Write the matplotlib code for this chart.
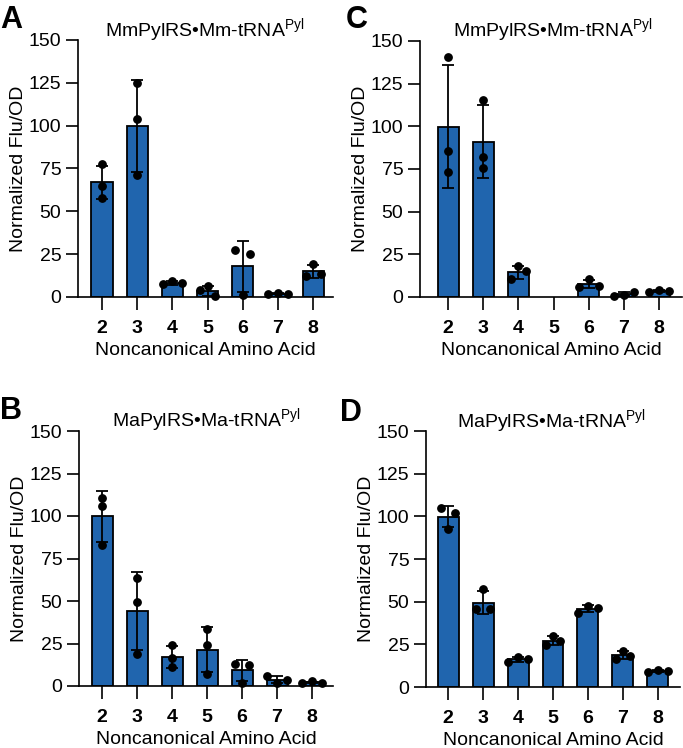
import numpy as np
import matplotlib
matplotlib.use('Agg')
import matplotlib.pyplot as plt

plt.rcParams['font.family'] = ['Liberation Sans', 'DejaVu Sans']
plt.rcParams['mathtext.fontset'] = 'custom'
plt.rcParams['mathtext.rm'] = 'Liberation Sans'

# ---------------- data ----------------
categories = ['2', '3', '4', '5', '6', '7', '8']
yticks = [0, 25, 50, 75, 100, 125, 150]
xlabel = 'Noncanonical Amino Acid'
ylabel = 'Normalized Flu/OD'
title_mm = r'MmPylRS•Mm-tRNA$^{\mathregular{Pyl}}$'
title_ma = r'MaPylRS•Ma-tRNA$^{\mathregular{Pyl}}$'

# replicate values (3 per amino acid); NaN = not measured
reps_A = [[77.5, 65.0, 58.0], [124.7, 103.6, 71.1], [7.5, 9.5, 8.0],
          [4.2, 6.2, 0.3], [27.7, 1.0, 24.9], [1.5, 2.5, 2.0], [12.5, 19.5, 13.5]]
reps_C = [[140.7, 85.5, 73.4], [115.3, 82.0, 75.8], [17.9, 10.5, 15.0],
          [np.nan, np.nan, np.nan], [6.0, 10.5, 6.2], [0.8, 1.2, 2.8], [3.2, 4.3, 3.3]]
reps_B = [[110.8, 105.9, 82.9], [63.7, 49.4, 19.0], [23.9, 16.5, 11.2],
          [33.3, 23.9, 6.9], [13.1, 2.0, 12.5], [5.7, 1.8, 3.7], [1.8, 2.7, 1.8]]
reps_D = [[104.9, 92.8, 102.0], [45.5, 57.2, 45.5], [14.6, 17.6, 16.2],
          [29.9, 24.8, 26.8], [43.6, 47.5, 46.3], [16.2, 20.9, 18.4], [8.6, 9.8, 9.6]]

# ---------------- style ----------------
BAR_COLOR = '#2065AE'
W, H = 683, 748
fig = plt.figure(figsize=(W / 100, H / 100), dpi=100)


def px_rect(left, right, y0, ytop):
    return [left / W, 1 - y0 / H, (right - left) / W, (y0 - ytop) / H]


def swarm_offsets(vals, px_per_unit, thresh_px=8.0):
    vals = np.asarray(vals, dtype=float)
    order = np.argsort(vals, kind='stable')
    rows = []
    for i in order:
        if rows and abs(vals[i] - vals[rows[-1][0]]) * px_per_unit < thresh_px:
            rows[-1].append(i)
        else:
            rows.append([i])
    offs = np.zeros(len(vals))
    for r in rows:
        r = sorted(r)
        n = len(r)
        step = 0.42 if n == 2 else 0.28
        for k, i in enumerate(r):
            offs[i] = (k - (n - 1) / 2) * step
    return offs


def panel(rect, xlim, reps, title, title_xy, letter, letter_xy):
    ax = fig.add_axes(px_rect(*rect))
    x = np.arange(len(categories))
    reps = np.asarray(reps, dtype=float)
    means = np.array([np.nan if np.all(np.isnan(r)) else np.mean(r) for r in reps])
    sds = np.array([np.nan if np.all(np.isnan(r)) else np.std(r, ddof=1) for r in reps])
    valid = ~np.isnan(means)
    ax.bar(x[valid], means[valid], width=0.6, color=BAR_COLOR, edgecolor='black',
           linewidth=1.3, zorder=2)
    ax.errorbar(x[valid], means[valid], yerr=sds[valid], fmt='none', ecolor='black',
                elinewidth=1.3, capsize=4, capthick=1.3, zorder=3, clip_on=False)
    ppu = (rect[2] - rect[3]) / 150.0
    for xi, r in zip(x, reps):
        if np.all(np.isnan(r)):
            continue
        offs = swarm_offsets(r, ppu)
        ax.plot(xi + offs, r, 'o', color='black', markersize=5.3, zorder=4,
                clip_on=False)
    ax.set_xlim(*xlim)
    ax.set_ylim(0, 150)
    ax.set_yticks(yticks)
    ax.set_xticks(x)
    ax.set_xticklabels(categories, fontweight='bold')
    for s in ['top', 'right']:
        ax.spines[s].set_visible(False)
    for s in ['left', 'bottom']:
        ax.spines[s].set_linewidth(1.2)
    ax.tick_params(axis='both', length=9, width=1.2, labelsize=14)
    ax.tick_params(axis='y', pad=3)
    ax.tick_params(axis='x', pad=7.5)
    ax.set_ylabel(ylabel, fontsize=14, labelpad=1)
    ax.set_xlabel(xlabel, fontsize=14, labelpad=3.5)
    fig.text(title_xy[0] / W, 1 - title_xy[1] / H, title, fontsize=14,
             ha='center', va='baseline')
    fig.text(letter_xy[0] / W, 1 - letter_xy[1] / H, letter, fontsize=22,
             fontweight='bold', ha='left', va='baseline')
    return ax


panel((78, 333, 297, 40), (-0.68, 6.56), reps_A, title_mm, (205, 37), 'A', (0, 28))
panel((420, 682, 297, 41), (-0.8, 6.65), reps_C, title_mm, (553, 37), 'C', (346, 28))
panel((79, 333, 686, 431), (-0.66, 6.6), reps_B, title_ma, (206, 427), 'B', (0, 419))
panel((426, 680, 687, 431), (-0.63, 6.63), reps_D, title_ma, (551, 428), 'D', (340, 421))

fig.savefig('out.png', dpi=100)
